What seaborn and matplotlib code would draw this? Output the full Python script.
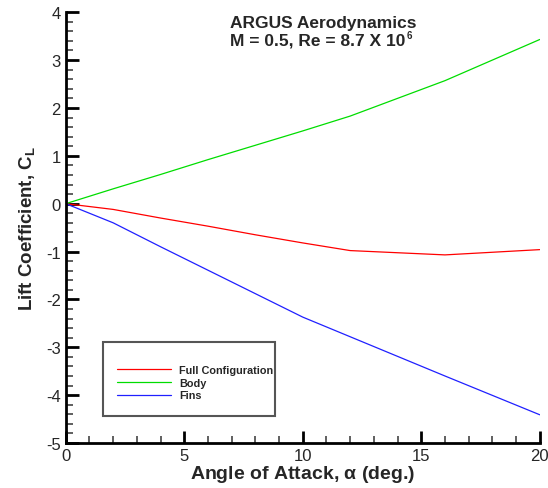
import numpy as np
import pandas as pd
import matplotlib
matplotlib.use("Agg")
import matplotlib.pyplot as plt
import seaborn as sns
from matplotlib.ticker import MultipleLocator
from matplotlib.patches import Rectangle
from matplotlib.lines import Line2D

alpha = [0, 2, 4, 6, 8, 10, 12, 16, 20]
full_cfg = [0, -0.12, -0.30, -0.47, -0.65, -0.82, -0.98, -1.07, -0.96]
body = [0, 0.31, 0.61, 0.92, 1.22, 1.52, 1.83, 2.57, 3.43]
fins = [0, -0.40, -0.90, -1.39, -1.88, -2.37, -2.78, -3.60, -4.41]
series_names = ["Full Configuration", "Body", "Fins"]
colors = ["#ff0000", "#00dd00", "#2020ff"]

df = pd.DataFrame({
    "alpha": alpha * 3,
    "CL": full_cfg + body + fins,
    "series": [series_names[0]] * len(alpha) + [series_names[1]] * len(alpha) + [series_names[2]] * len(alpha),
})

sns.set_style("white")
plt.rcParams["font.family"] = ["Liberation Sans", "DejaVu Sans"]
plt.rcParams["axes.unicode_minus"] = False

fig = plt.figure(figsize=(5.48, 4.89), dpi=100)
ax = fig.add_axes([0.120, 0.092, 0.865, 0.881])

sns.lineplot(data=df, x="alpha", y="CL", hue="series", palette=dict(zip(series_names, colors)),
             linewidth=0.9, ax=ax, legend=False, sort=False)

ax.set_xlim(0, 20)
ax.set_ylim(-5, 4)
ax.xaxis.set_major_locator(MultipleLocator(5))
ax.xaxis.set_minor_locator(MultipleLocator(1))
ax.yaxis.set_major_locator(MultipleLocator(1))
ax.yaxis.set_minor_locator(MultipleLocator(0.2))
ax.tick_params(which="both", bottom=True, left=True, top=False, right=False)
ax.tick_params(which="major", direction="in", length=9, width=2, labelsize=12, color="black", pad=3.5)
ax.tick_params(which="minor", direction="in", length=5, width=1.2, color="#444444")
for s in ["top", "right"]:
    ax.spines[s].set_visible(False)
for s in ["left", "bottom"]:
    ax.spines[s].set_linewidth(2)
    ax.spines[s].set_color("black")

ax.set_xlabel(r"Angle of Attack, $\mathregular{\alpha}$ (deg.)", fontsize=14, fontweight="bold")
ax.xaxis.set_label_coords(0.5, -0.047)
ax.set_ylabel(r"Lift Coefficient, C$_\mathregular{L}$", fontsize=13.5, fontweight="bold", labelpad=6)

fig.text(230 / 548, 1 - 28 / 489, "ARGUS Aerodynamics", fontsize=12.5, fontweight="bold", ha="left", va="baseline")
t2 = fig.text(230 / 548, 1 - 45 / 489, "M = 0.5, Re = 8.7 X 10", fontsize=12.5, fontweight="bold", ha="left", va="baseline")
fig.canvas.draw()
bb = t2.get_window_extent(renderer=fig.canvas.get_renderer())
fig.text((bb.x1 + 1) / fig.bbox.width, 1 - 39 / 489, "6", fontsize=7, fontweight="bold", ha="left", va="baseline")

# legend box
rect = Rectangle((103 / 548, 1 - 417 / 489), 172 / 548, 74 / 489, transform=fig.transFigure,
                 facecolor="white", edgecolor="#555555", linewidth=1.5, zorder=5)
fig.add_artist(rect)
handles = [Line2D([], [], color=c, linewidth=0.9) for c in colors]
leg = fig.legend(handles, series_names, loc="upper left", bbox_to_anchor=(117 / 548, 1 - 366 / 489),
                 frameon=False, prop={"weight": "bold", "size": 7.8},
                 handlelength=5.0, handletextpad=0.7, labelspacing=0.25, borderpad=0, borderaxespad=0)
leg.set_zorder(6)

fig.savefig("out.png", dpi=100)
